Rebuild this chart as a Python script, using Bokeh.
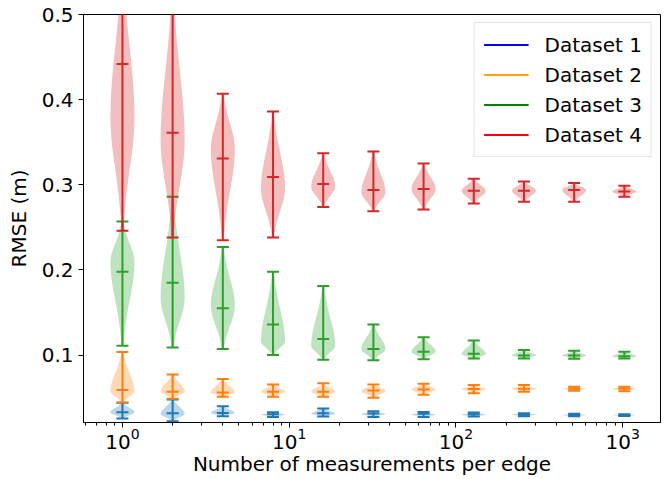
import numpy as np
from bokeh.plotting import figure
from bokeh.models import Range1d, FixedTicker, LogTicker, Legend, LegendItem
from bokeh.embed import file_html
from bokeh.resources import INLINE

positions = [1, 2, 4, 8, 16, 32, 64, 128, 256, 512, 1024]
labels = ["Dataset 1", "Dataset 2", "Dataset 3", "Dataset 4"]

ds1_min = [0.0255, 0.0224, 0.0282, 0.0274, 0.0278, 0.0274, 0.0274, 0.0278, 0.0280, 0.0282, 0.0285]
ds1_center = [0.0329, 0.0318, 0.0321, 0.0306, 0.0318, 0.0314, 0.0310, 0.0305, 0.0300, 0.0295, 0.0295]
ds1_max = [0.0439, 0.0479, 0.0400, 0.0329, 0.0373, 0.0341, 0.0330, 0.0325, 0.0318, 0.0310, 0.0305]
ds1_mode = [0.0330, 0.0310, 0.0320, 0.0300, 0.0310, 0.0308, 0.0300, 0.0300, 0.0300, 0.0295, 0.0295]

ds2_min = [0.0444, 0.0486, 0.0510, 0.0510, 0.0510, 0.0498, 0.0533, 0.0553, 0.0568, 0.0580, 0.0576]
ds2_center = [0.0590, 0.0568, 0.0560, 0.0568, 0.0568, 0.0585, 0.0596, 0.0600, 0.0604, 0.0603, 0.0603]
ds2_max = [0.1035, 0.0773, 0.0718, 0.0655, 0.0670, 0.0655, 0.0663, 0.0647, 0.0647, 0.0627, 0.0627]
ds2_mode = [0.0576, 0.0573, 0.0560, 0.0568, 0.0568, 0.0580, 0.0596, 0.0600, 0.0604, 0.0603, 0.0603]

ds3_min = [0.111, 0.109, 0.107, 0.100, 0.0945, 0.0938, 0.0950, 0.0960, 0.0960, 0.0957, 0.0960]
ds3_center = [0.198, 0.185, 0.155, 0.136, 0.119, 0.107, 0.104, 0.1015, 0.0996, 0.0996, 0.0985]
ds3_max = [0.257, 0.286, 0.227, 0.198, 0.181, 0.136, 0.121, 0.117, 0.106, 0.105, 0.104]
ds3_mode = [0.209, 0.167, 0.158, 0.116, 0.111, 0.107, 0.104, 0.101, 0.0996, 0.0993, 0.0985]

ds4_min = [0.246, 0.238, 0.235, 0.238, 0.274, 0.269, 0.271, 0.278, 0.280, 0.280, 0.286]
ds4_center = [0.442, 0.361, 0.331, 0.309, 0.301, 0.294, 0.295, 0.293, 0.293, 0.294, 0.292]
ds4_max = [0.560, 0.530, 0.407, 0.386, 0.337, 0.339, 0.325, 0.307, 0.304, 0.302, 0.299]
ds4_mode = [0.379, 0.352, 0.342, 0.296, 0.298, 0.291, 0.295, 0.293, 0.293, 0.294, 0.292]

datasets = [
    (ds1_min, ds1_center, ds1_max, ds1_mode),
    (ds2_min, ds2_center, ds2_max, ds2_mode),
    (ds3_min, ds3_center, ds3_max, ds3_mode),
    (ds4_min, ds4_center, ds4_max, ds4_mode),
]
body_colors = ["#1f77b4", "#ff7f0e", "#2ca02c", "#d62728"]
legend_colors = ["blue", "orange", "green", "red"]

FONT = "DejaVu Sans"
FS = "20px"
HALF_W = 0.072   # violin half-width, decades
CAP_W = 0.036    # cap half-width, decades

p = figure(width=671, height=479, x_axis_type="log",
           x_range=Range1d(0.584, 1687), y_range=Range1d(0.0208, 0.5),
           output_backend="svg", toolbar_location=None,
           min_border_left=83, min_border_right=11, min_border_top=14, min_border_bottom=57)

for (mins, cens, maxs, modes), col in zip(datasets, body_colors):
    xs_list, ys_list = [], []
    for pos, lo, hi, mo in zip(positions, mins, maxs, modes):
        ys = np.linspace(lo, hi, 80)
        s_lo = max(mo - lo, 1e-6) / 2.2
        s_hi = max(hi - mo, 1e-6) / 2.2
        s = np.where(ys < mo, s_lo, s_hi)
        f = np.exp(-0.5 * ((ys - mo) / s) ** 2)
        half = HALF_W * f
        xl = pos * 10 ** (-half)
        xr = pos * 10 ** (half)
        xs_list.append(np.concatenate([xl, xr[::-1]]))
        ys_list.append(np.concatenate([ys, ys[::-1]]))
    p.patches(xs_list, ys_list, fill_color=col, fill_alpha=0.3, line_color=None)
    pos = np.array(positions, dtype=float)
    p.segment(pos, mins, pos, maxs, line_color=col, line_width=2)
    for arr in (mins, cens, maxs):
        p.segment(pos * 10 ** (-CAP_W), arr, pos * 10 ** CAP_W, arr, line_color=col, line_width=2)

items = []
for lab, col in zip(labels, legend_colors):
    r = p.line([np.nan, np.nan], [np.nan, np.nan], line_color=col, line_width=2)
    items.append(LegendItem(label=lab, renderers=[r]))
legend = Legend(items=items, location="top_right", label_text_font=FONT,
                label_text_font_size=FS, label_text_color="black",
                glyph_width=45, glyph_height=25, label_height=25,
                label_standoff=16, spacing=5, padding=9, margin=8,
                border_line_color="#cccccc", border_line_width=1,
                background_fill_alpha=0.8)
p.add_layout(legend)

p.xgrid.visible = False
p.ygrid.visible = False
p.outline_line_color = "black"
p.outline_line_width = 1
p.outline_line_alpha = 1

p.yaxis.ticker = FixedTicker(ticks=[0.1, 0.2, 0.3, 0.4, 0.5])
p.xaxis.ticker = LogTicker(num_minor_ticks=10)

for ax in (p.xaxis[0], p.yaxis[0]):
    ax.major_label_text_font = FONT
    ax.major_label_text_font_size = FS
    ax.major_label_text_color = "black"
    ax.axis_label_text_font = FONT
    ax.axis_label_text_font_size = FS
    ax.axis_label_text_font_style = "normal"
    ax.axis_label_text_color = "black"
    ax.axis_line_color = "black"
    ax.major_tick_line_color = "black"
    ax.minor_tick_line_color = "black"
    ax.major_tick_out = 5
    ax.major_tick_in = 0
    ax.minor_tick_out = 3
    ax.minor_tick_in = 0

p.yaxis.minor_tick_line_color = None
p.xaxis.axis_label = "Number of measurements per edge"
p.yaxis.axis_label = "RMSE (m)"
p.xaxis.major_label_standoff = 0
p.xaxis.axis_label_standoff = 0
p.yaxis.axis_label_standoff = 8

open("out.html", "w").write(file_html(p, INLINE))
